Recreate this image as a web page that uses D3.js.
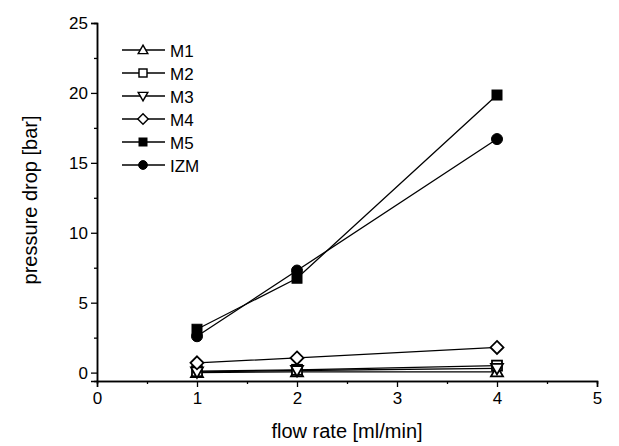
<!DOCTYPE html>
<html>
<head>
<meta charset="utf-8">
<script src="https://cdn.jsdelivr.net/npm/d3@7"></script>
<style>
  body { margin: 0; background: #fff; }
  svg { display: block; font-family: "Liberation Sans", Arial, sans-serif; }
</style>
</head>
<body>
<div id="chart"></div>
<script>
const flowRates = [1, 2, 4]
const seriesNames = ["M1", "M2", "M3", "M4", "M5", "IZM"]
const m1 = [0.0, 0.05, 0.05]
const m2 = [0.1, 0.2, 0.5]
const m3 = [0.05, 0.15, 0.3]
const m4 = [0.7, 1.05, 1.8]
const m5 = [3.1, 6.75, 19.85]
const izm = [2.6, 7.3, 16.7]
const xTicks = [0, 1, 2, 3, 4, 5]
const yTicks = [0, 5, 10, 15, 20, 25]

const seriesValues = [m1, m2, m3, m4, m5, izm]
const symbols = ["triUp", "square", "triDown", "diamond", "square", "circle"]
const filled = [false, false, false, false, true, true]

const W = 619, H = 446
const svg = d3.select("#chart").append("svg").attr("width", W).attr("height", H)

const x = d3.scaleLinear().domain([0, 5]).range([97, 597])
const y = d3.scaleLinear().domain([-0.6, 25]).range([381, 23])

// axes
const xAxis = d3.axisBottom(x).tickValues(xTicks).tickSize(6).tickPadding(5).tickFormat(d3.format("d"))
const xMinor = d3.axisBottom(x).tickValues(d3.range(0.5, 5, 1)).tickSize(3).tickFormat("")
const yAxis = d3.axisLeft(y).tickValues(yTicks).tickSize(6).tickPadding(3).tickFormat(d3.format("d"))
const yMinor = d3.axisLeft(y).tickValues(d3.range(2.5, 25, 5)).tickSize(3).tickFormat("")

function styleAxis(g) {
  g.select(".domain").attr("stroke", "#000").attr("stroke-width", 1.5)
  g.selectAll(".tick line").attr("stroke", "#000").attr("stroke-width", 1.3)
  g.selectAll(".tick text").attr("fill", "#000").style("font-size", "17px")
}

svg.append("g").attr("transform", "translate(0,381)").call(xAxis).call(styleAxis)
svg.append("g").attr("transform", "translate(0,381)").call(xMinor).call(styleAxis)
svg.append("g").attr("transform", "translate(97,0)").call(yAxis).call(styleAxis)
svg.append("g").attr("transform", "translate(97,0)").call(yMinor).call(styleAxis)

svg.append("text").attr("x", 347).attr("y", 438).attr("text-anchor", "middle")
  .style("font-size", "20px").text("flow rate [ml/min]")
svg.append("text").attr("transform", "translate(37,200) rotate(-90)").attr("text-anchor", "middle")
  .style("font-size", "20px").text("pressure drop [bar]")

function drawSymbol(g, type, cx, cy, fill, sc) {
  const s = 5 * sc
  let el
  if (type === "square") {
    el = g.append("rect").attr("x", cx - s).attr("y", cy - s).attr("width", 2 * s).attr("height", 2 * s)
  } else if (type === "circle") {
    el = g.append("circle").attr("cx", cx).attr("cy", cy).attr("r", 5.5 * sc)
  } else {
    let pts
    const a = 6 * sc, b = 4.5 * sc, d = 6.5 * sc
    if (type === "triUp") pts = [[cx, cy - a], [cx + a, cy + b], [cx - a, cy + b]]
    else if (type === "triDown") pts = [[cx, cy + a], [cx + a, cy - b], [cx - a, cy - b]]
    else pts = [[cx, cy - d], [cx + d, cy], [cx, cy + d], [cx - d, cy]]
    el = g.append("polygon").attr("points", pts.map(p => p.join(",")).join(" "))
  }
  el.attr("fill", fill ? "#000" : "#fff").attr("stroke", "#000").attr("stroke-width", fill ? 1 : 1.8 * sc)
}

const line = d3.line().x((d, i) => x(flowRates[i])).y(d => y(d))
const plot = svg.append("g")

seriesValues.forEach((vals, k) => {
  plot.append("path").datum(vals).attr("d", line)
    .attr("fill", "none").attr("stroke", "#000").attr("stroke-width", 1.3)
})
seriesValues.forEach((vals, k) => {
  vals.forEach((v, i) => drawSymbol(plot, symbols[k], x(flowRates[i]), y(v), filled[k], 1))
})

// legend
const legend = svg.append("g")
seriesNames.forEach((name, k) => {
  const ly = 50 + k * 23
  legend.append("line").attr("x1", 122).attr("x2", 165).attr("y1", ly).attr("y2", ly)
    .attr("stroke", "#000").attr("stroke-width", 1.3)
  drawSymbol(legend, symbols[k], 143, ly, filled[k], 0.8)
  legend.append("text").attr("x", 170).attr("y", ly + 6.5).style("font-size", "17px").text(name)
})
</script>
</body>
</html>
